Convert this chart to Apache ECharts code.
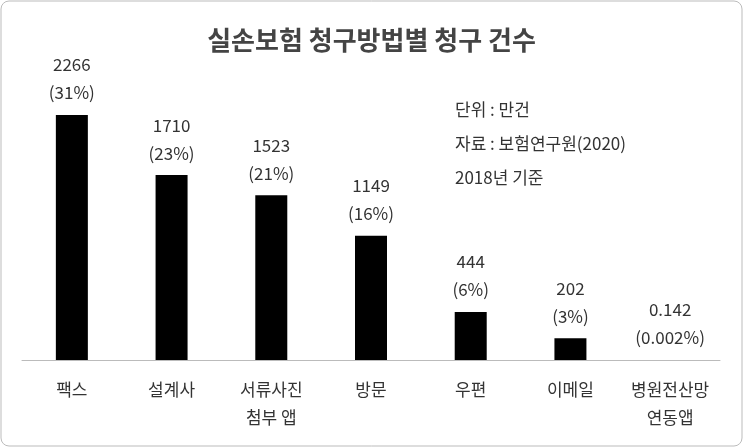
<!DOCTYPE html><html><head><meta charset="utf-8">
<script src="https://cdn.jsdelivr.net/npm/echarts@6/dist/echarts.min.js"></script>
<style>html,body{margin:0;padding:0;background:#fff}#c{width:743px;height:447px}</style></head><body><div id="c"></div>
<script>
const categories=['팩스','설계사','서류사진\n첨부 앱','방문','우편','이메일','병원전산망\n연동앱'];
const values=[2266,1710,1523,1149,444,202,0.142];
const percents=['31%','23%','21%','16%','6%','3%','0.002%'];
const noteLines=['단위 : 만건','자료 : 보험연구원(2020)','2018년 기준'];
const font='"Noto Sans CJK KR","Noto Sans",sans-serif';
const chart=echarts.init(document.getElementById('c'));
chart.setOption({
  animation:false,
  title:{text:'실손보험 청구방법별 청구 건수',left:'center',top:22,textStyle:{fontFamily:font,fontSize:26,fontWeight:'bold',color:'#444'}},
  graphic:[
    {type:'rect',shape:{x:1,y:1,width:741,height:445,r:8},style:{fill:'none',stroke:'#bbb',lineWidth:1}},
    {type:'text',left:455,top:93,style:{text:noteLines.join('\n'),font:'17px '+font,fill:'#333',lineHeight:34}}
  ],
  grid:{left:22,right:23,top:115,bottom:87},
  xAxis:{type:'category',data:categories,axisTick:{show:false},axisLine:{lineStyle:{color:'#bbb'}},
    axisLabel:{fontFamily:font,fontSize:17,color:'#333',margin:16,lineHeight:28,interval:0}},
  yAxis:{type:'value',min:0,max:2266,show:false,splitLine:{show:false}},
  series:[{type:'bar',data:values,barWidth:32,itemStyle:{color:'#000'},
    label:{show:true,position:'top',distance:8,fontFamily:font,fontSize:17,color:'#333',lineHeight:28,
      formatter:p=>p.value+'\n('+percents[p.dataIndex]+')'}}]
});
</script></body></html>
